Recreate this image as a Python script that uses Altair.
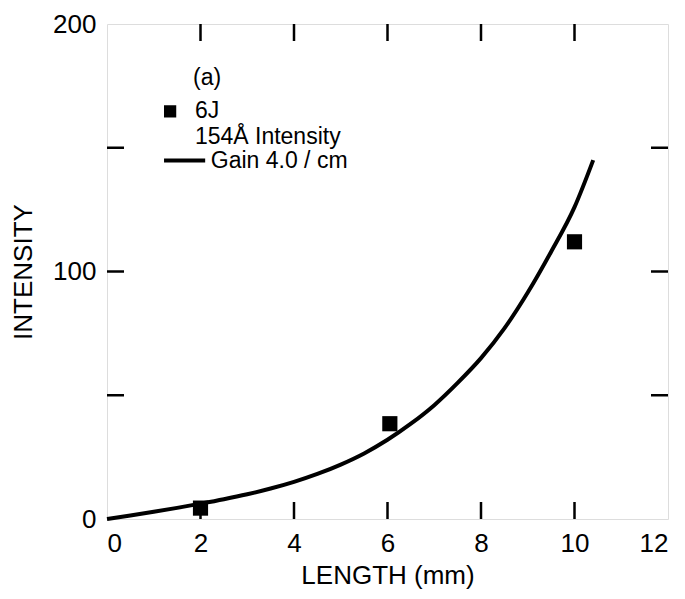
import altair as alt
import pandas as pd

# ---- data ----
point_x = [2.0, 6.05, 10.0]
point_y = [4.4, 38.5, 112.0]

curve_x = [0, 0.5, 1, 1.5, 2, 2.5, 3, 3.5, 4, 4.5, 5, 5.5, 6, 6.5, 7, 7.5, 8, 8.5, 9, 9.5, 10, 10.4]
curve_y = [0, 1.4, 2.9, 4.5, 6.2, 8.0, 10.0, 12.3, 15.0, 18.2, 22.0, 26.5, 32, 38.5, 46, 55, 65, 77, 91.5, 108, 126, 145]

x_tick_labels = [0, 2, 4, 6, 8, 10, 12]
y_tick_labels = [0, 100, 200]
x_inner_ticks = [2, 4, 6, 8, 10]
y_inner_ticks = [50, 100, 150]

legend_texts = ["(a)", "6J", "154Å Intensity", "Gain 4.0 / cm"]
legend_text_x = [1.84, 1.88, 1.88, 2.22]
legend_text_y = [178, 164.7, 154.5, 144.8]

W, H = 561, 495
FONT = "Liberation Sans"
TL = 17  # inner tick length

xs = alt.Scale(domain=[0, 12], nice=False, zero=False)
ys = alt.Scale(domain=[0, 200], nice=False, zero=False)

pts = pd.DataFrame({"x": point_x, "y": point_y})
crv = pd.DataFrame({"x": curve_x, "y": curve_y, "o": list(range(len(curve_x)))})
xt = pd.DataFrame({"x": x_inner_ticks})
yt = pd.DataFrame({"y": y_inner_ticks})
lt = pd.DataFrame({"x": legend_text_x, "y": legend_text_y, "t": legend_texts})
lsq = pd.DataFrame({"x": [1.35], "y": [164.7]})
lln = pd.DataFrame({"x": [1.22], "x2": [2.10], "y": [144.8]})

x_axis = alt.Axis(values=x_tick_labels, ticks=False, domain=False, grid=False,
                  labelFontSize=26, labelFont=FONT, labelColor="black", labelPadding=11,
                  title="LENGTH (mm)", titleFontSize=26, titleFont=FONT,
                  titleFontWeight="normal", titleColor="black", titlePadding=6)
y_axis = alt.Axis(values=y_tick_labels, ticks=False, domain=False, grid=False,
                  labelFontSize=26, labelFont=FONT, labelColor="black", labelPadding=11,
                  title="INTENSITY", titleFontSize=26, titleFont=FONT,
                  titleFontWeight="normal", titleColor="black", titlePadding=16)

curve = alt.Chart(crv).mark_line(color="black", strokeWidth=4, interpolate="monotone").encode(
    x=alt.X("x:Q", scale=xs, axis=x_axis),
    y=alt.Y("y:Q", scale=ys, axis=y_axis),
    order="o:Q",
)
points = alt.Chart(pts).mark_square(color="black", size=230, opacity=1).encode(
    x=alt.X("x:Q", scale=xs), y=alt.Y("y:Q", scale=ys)
)

bt = alt.Chart(xt).mark_rule(color="black", strokeWidth=2.5).encode(
    x=alt.X("x:Q", scale=xs), y=alt.value(H), y2=alt.value(H - TL))
tt = alt.Chart(xt).mark_rule(color="black", strokeWidth=2.5).encode(
    x=alt.X("x:Q", scale=xs), y=alt.value(0), y2=alt.value(TL))
lft = alt.Chart(yt).mark_rule(color="black", strokeWidth=2.5).encode(
    y=alt.Y("y:Q", scale=ys), x=alt.value(0), x2=alt.value(TL))
rt = alt.Chart(yt).mark_rule(color="black", strokeWidth=2.5).encode(
    y=alt.Y("y:Q", scale=ys), x=alt.value(W), x2=alt.value(W - TL))

texts = alt.Chart(lt).mark_text(align="left", baseline="middle", fontSize=23,
                                font=FONT, color="black").encode(
    x=alt.X("x:Q", scale=xs), y=alt.Y("y:Q", scale=ys), text="t:N")
leg_sq = alt.Chart(lsq).mark_square(color="black", size=150, opacity=1).encode(
    x=alt.X("x:Q", scale=xs), y=alt.Y("y:Q", scale=ys))
leg_ln = alt.Chart(lln).mark_rule(color="black", strokeWidth=4).encode(
    x=alt.X("x:Q", scale=xs), x2="x2:Q", y=alt.Y("y:Q", scale=ys))

chart = alt.layer(curve, points, bt, tt, lft, rt, texts, leg_sq, leg_ln).properties(
    width=W, height=H,
    autosize=alt.AutoSizeParams(type="none"),
    padding={"left": 99, "top": 16, "right": 8, "bottom": 70},
).configure_view(stroke="black", strokeWidth=2.5).configure(background="white")

chart.save("out.html", embed_options={"renderer": "svg", "actions": False})
